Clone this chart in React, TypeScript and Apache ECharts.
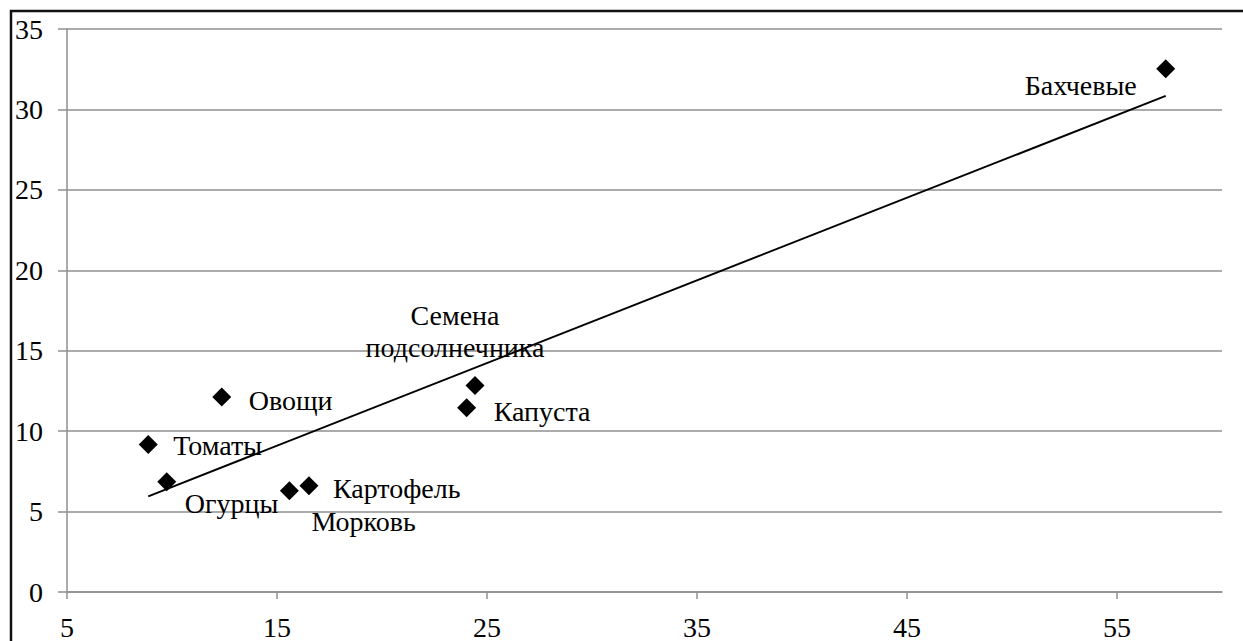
import React, { useEffect, useRef } from "react";
import * as echarts from "echarts";

// Crop groups and their two indicators
const names = [
  "Томаты",
  "Огурцы",
  "Овощи",
  "Морковь",
  "Картофель",
  "Капуста",
  "Семена\nподсолнечника",
  "Бахчевые",
];
const xValues = [8.87, 9.75, 12.37, 15.59, 16.52, 24.03, 24.43, 57.32];
const yValues = [9.17, 6.86, 12.12, 6.3, 6.61, 11.46, 12.84, 32.53];

const xTicks = [5, 15, 25, 35, 45, 55];

// Where each point's caption sits relative to its marker
const labelPlacement: Record<string, { align: string; offset: number[] }> = {
  "Томаты": { align: "left", offset: [25, 1] },
  "Огурцы": { align: "left", offset: [18, 22] },
  "Овощи": { align: "left", offset: [27, 3] },
  "Морковь": { align: "left", offset: [22, 31] },
  "Картофель": { align: "left", offset: [24, 3] },
  "Капуста": { align: "left", offset: [27, 4] },
  "Семена\nподсолнечника": { align: "center", offset: [-20, -54] },
  "Бахчевые": { align: "right", offset: [-29, 17] },
};

const FONT = "Liberation Serif, serif";

// Least-squares trend through the points, drawn across their x range
function linearTrend(xs: number[], ys: number[]) {
  const n = xs.length;
  const mx = xs.reduce((a, b) => a + b, 0) / n;
  const my = ys.reduce((a, b) => a + b, 0) / n;
  let sxy = 0;
  let sxx = 0;
  for (let i = 0; i < n; i++) {
    sxy += (xs[i] - mx) * (ys[i] - my);
    sxx += (xs[i] - mx) * (xs[i] - mx);
  }
  const slope = sxy / sxx;
  const intercept = my - slope * mx;
  const x0 = Math.min(...xs);
  const x1 = Math.max(...xs);
  return [
    [x0, intercept + slope * x0],
    [x1, intercept + slope * x1],
  ];
}

export default function App() {
  const ref = useRef<HTMLDivElement>(null);

  useEffect(() => {
    const chart = echarts.init(ref.current!, null, { renderer: "svg" });

    const points = names.map((name, i) => {
      const p = labelPlacement[name];
      return {
        name,
        value: [xValues[i], yValues[i]],
        label: {
          show: true,
          position: "inside",
          align: p.align,
          verticalAlign: "middle",
          offset: p.offset,
          formatter: name,
        },
      };
    });

    const gridColor = "#8f8f8f";

    chart.setOption({
      animation: false,
      backgroundColor: "#ffffff",
      textStyle: { fontFamily: FONT },
      graphic: [
        {
          type: "rect",
          shape: { x: 11, y: 11, width: 1300, height: 700 },
          style: { fill: "none", stroke: "#111", lineWidth: 2.5 },
          silent: true,
          z: 10,
        },
      ],
      grid: { left: 67, top: 29, right: 21, bottom: 47, containLabel: false },
      xAxis: {
        type: "value",
        min: 5,
        max: 60,
        interval: 10,
        axisLine: { show: true, lineStyle: { color: gridColor, width: 1.5 } },
        axisTick: {
          show: true,
          length: 7,
          customValues: xTicks,
          lineStyle: { color: gridColor, width: 1.5 },
        },
        axisLabel: {
          customValues: xTicks,
          color: "#000",
          fontFamily: FONT,
          fontSize: 28,
          margin: 21,
        },
        splitLine: { show: false },
      },
      yAxis: {
        type: "value",
        min: 0,
        max: 35,
        interval: 5,
        axisLine: { show: true, lineStyle: { color: gridColor, width: 1.5 } },
        axisTick: {
          show: true,
          length: 9,
          lineStyle: { color: gridColor, width: 1.5 },
        },
        axisLabel: {
          color: "#000",
          fontFamily: FONT,
          fontSize: 28,
          margin: 24,
        },
        splitLine: { show: true, lineStyle: { color: gridColor, width: 1.5 } },
      },
      series: [
        {
          type: "line",
          data: linearTrend(xValues, yValues),
          showSymbol: false,
          symbol: "none",
          lineStyle: { color: "#000", width: 2 },
          silent: true,
          z: 2,
        },
        {
          type: "scatter",
          data: points,
          symbol: "diamond",
          symbolSize: 19,
          itemStyle: { color: "#000", opacity: 1 },
          label: {
            color: "#000",
            fontFamily: FONT,
            fontSize: 28,
            lineHeight: 32,
          },
          z: 3,
        },
      ],
    });

    return () => chart.dispose();
  }, []);

  return (
    <div
      ref={ref}
      style={{
        position: "fixed",
        left: 0,
        top: 0,
        width: 1243,
        height: 641,
        background: "#fff",
      }}
    />
  );
}
